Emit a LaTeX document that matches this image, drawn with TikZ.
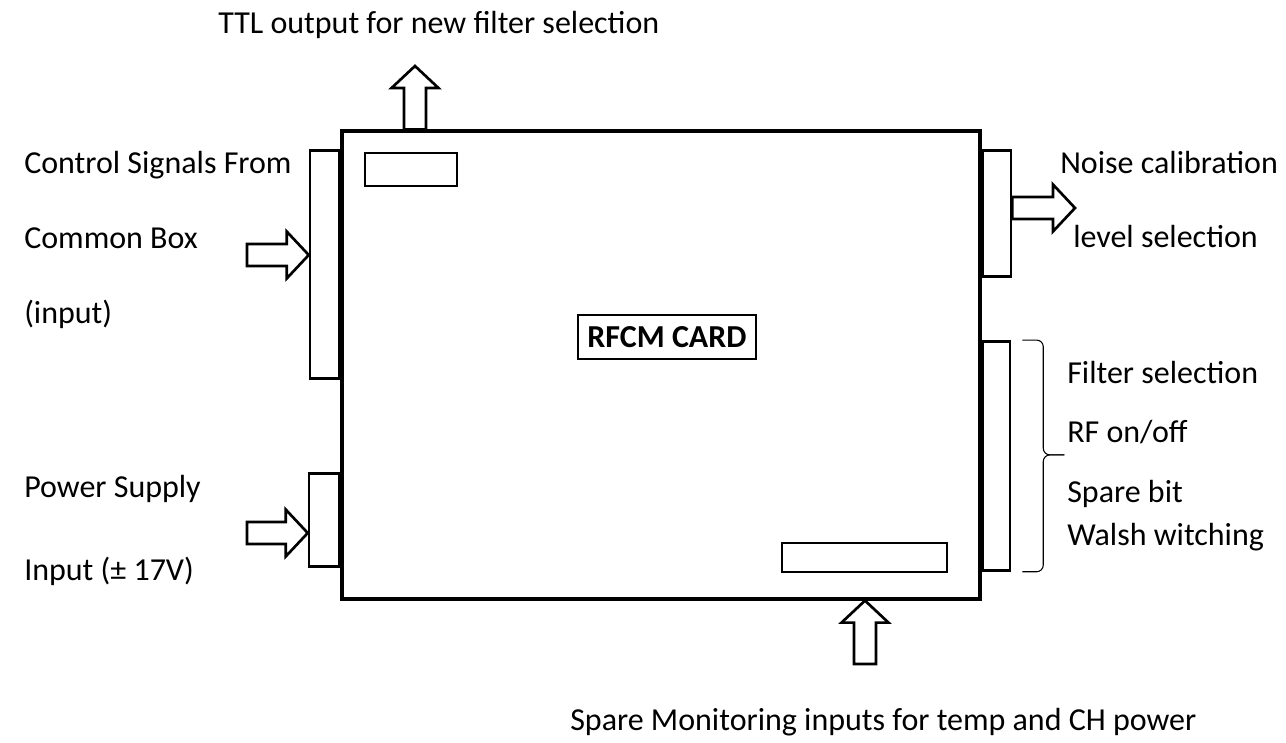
\documentclass[tikz,border=0pt]{standalone}
\usepackage{fontspec}
\setmainfont{Carlito}
\usepackage{tikz}
\usetikzlibrary{positioning,calc}

\begin{document}
\begin{tikzpicture}[x=0.75pt, y=-0.75pt,
        card/.style={draw, line width=2.4pt, minimum width=478.5pt, minimum height=351pt, inner sep=0pt},
        port/.style={draw, line width=2pt, fill=white, inner sep=0pt},
        title/.style={draw, line width=1.5pt, minimum width=134pt, minimum height=33pt, font=\fontsize{24}{28}\selectfont\bfseries},
        txt/.style={font=\fontsize{24}{28}\selectfont, inner sep=0pt, anchor=base west},
        fat/.style={draw, line width=2pt, fill=white, line join=miter,
            to path={($(\tikztostart)!8.25pt!90:(\tikztotarget)$)
                -- ($($(\tikztotarget)!16.5pt!(\tikztostart)$)!8.25pt!-90:(\tikztostart)$)
                -- ($($(\tikztotarget)!16.5pt!(\tikztostart)$)!17.6pt!-90:(\tikztostart)$)
                -- (\tikztotarget)
                -- ($($(\tikztotarget)!16.5pt!(\tikztostart)$)!17.6pt!90:(\tikztostart)$)
                -- ($($(\tikztotarget)!16.5pt!(\tikztostart)$)!8.25pt!90:(\tikztostart)$)
                -- ($(\tikztostart)!8.25pt!-90:(\tikztotarget)$) -- cycle}},
        bracket/.style={draw, line width=0.8pt, rounded corners=5pt}
    ]
    \useasboundingbox (0,0) rectangle (1286,743);
    % Card and its connectors
    \node[card] (card) at (661,365) {};
    \node[port, minimum width=69pt, minimum height=24.75pt] (ttl) at (411,169.5) {};
    \node[port, anchor=east, minimum width=21.75pt, minimum height=171pt] (ctrl) at ($(card.north west)+(0,135)$) {};
    \node[port, anchor=east, minimum width=22.5pt, minimum height=69.75pt] (pwr) at ($(card.north west)+(0,390.5)$) {};
    \node[port, anchor=west, minimum width=21pt, minimum height=94.5pt] (noise) at ($(card.north east)+(0,84)$) {};
    \node[port, anchor=west, minimum width=20.25pt, minimum height=171.75pt] (filt) at ($(card.north east)+(0,326.5)$) {};
    \node[port, minimum width=123.75pt, minimum height=21.75pt] (spare) at (864.5,557.5) {};
    \node[title] (name) at (667,337) {RFCM CARD};
    % Free ends of the arrows
    \coordinate (ttltip) at (415,66);
    \coordinate (ctrlin) at (247,255);
    \coordinate (pwrin) at (247,533);
    \coordinate (noiseout) at (1075,208);
    \coordinate (sparein) at (865,664);
    % Arrows
    \draw[fat] (card.north -| ttltip) to (ttltip);
    \draw[fat] (ctrlin) to (ctrl.west |- ctrlin);
    \draw[fat] (pwrin) to (pwr.west |- pwrin);
    \draw[fat] (noise.east |- noiseout) to (noiseout);
    \draw[fat] (sparein) to (card.south -| sparein);
    % Brace
    \coordinate (brtop) at ($(filt.north east)+(11,0)$);
    \coordinate (brbot) at ($(filt.south east)+(11,0)$);
    \coordinate (brtip) at ($(filt.east)+(53,-1)$);
    \draw[bracket] (brtop) -| ($(brtip)+(-21,0)$) -- (brtip);
    \draw[bracket] (brbot) -| ($(brtip)+(-21,0)$) -- (brtip);
    % Labels
    \node[txt] (ttltxt) at (218,33) {TTL output for new filter selection};
    \node[txt] (ctrl1) at (24,173) {Control Signals From};
    \node[txt] (ctrl2) at ($(ctrl1.base west)+(0,75)$) {Common Box};
    \node[txt] (ctrl3) at ($(ctrl2.base west)+(0,75)$) {(input)};
    \node[txt] (pwr1) at (24,497) {Power Supply};
    \node[txt] (pwr2) at ($(pwr1.base west)+(0,83)$) {Input (± 17V)};
    \node[txt] (noise1) at (1060,173) {Noise calibration};
    \node[txt] (noise2) at (1073,247) {level selection};
    \node[txt] (filt1) at (1067,383) {Filter selection};
    \node[txt] (filt2) at (1067,442) {RF on/off};
    \node[txt] (filt3) at (1067,502) {Spare bit};
    \node[txt] (filt4) at (1067,545) {Walsh witching};
    \node[txt] (sparetxt) at (570,730) {Spare Monitoring inputs for temp and CH power};
\end{tikzpicture}
\end{document}
